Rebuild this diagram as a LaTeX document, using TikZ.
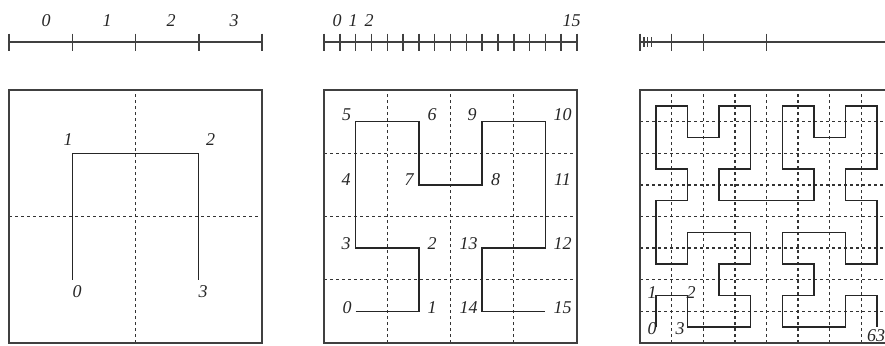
\documentclass[tikz,border=0pt]{standalone}
\usepackage{fontspec}
\setmainfont{Liberation Serif}
\usepackage{tikz}

\begin{document}
\begin{tikzpicture}[x=0.5pt,y=-0.5pt,
  frm/.style={draw=black!75,line width=0.8pt},
  grd/.style={draw=black!80,line width=0.65pt,dash pattern=on 1.5pt off 1.5pt},
  crv/.style={draw=black!85,line width=0.7pt},
  ax/.style={draw=black!75,line width=0.75pt},
  num/.style={font=\fontsize{9}{10}\selectfont\itshape,text=black!85,inner sep=0pt}]
  \clip (0,0) rectangle (885,345);
  % number lines
  \draw[ax] (9,42) -- (262,42);
  \foreach \t in {0,...,4} \draw[ax] (9+\t*63.25,33.5) -- (9+\t*63.25,50.5);
  \draw[ax] (324,42) -- (577,42);
  \foreach \t in {0,...,16} \draw[ax] (324+\t*15.8125,33.5) -- (324+\t*15.8125,50.5);
  \draw[ax] (640,42) -- (893,42);
  \foreach \t in {0,8,16,32} \draw[ax] (640+\t*3.953,33.5) -- (640+\t*3.953,50.5);
  \foreach \t in {1,2,3} \draw[ax,line width=0.55pt] (640+\t*3.953,37) -- (640+\t*3.953,46.5);
  \node[num] (ta0) at (46,21) {0};
  \node[num] (ta1) at (107,21) {1};
  \node[num] (ta2) at (171,21) {2};
  \node[num] (ta3) at (234,21) {3};
  \node[num] (tb0) at (337,21) {0};
  \node[num] (tb1) at (353,21) {1};
  \node[num] (tb2) at (369,21) {2};
  \node[num] (tb15) at (571.5,21) {15};
  % order 1
  \begin{scope}[shift={(9,343)},x=63.25pt,y=63.25pt]
    \draw[grd] (1,0) -- (1,2) (0,1) -- (2,1);
    \draw[frm] (0,0) rectangle (2,2);
    \draw[crv] (0.5,0.5) -- (0.5,1.5) -- (1.5,1.5) -- (1.5,0.5);
  \end{scope}
  \node[num] (pa0) at (77,292) {0};
  \node[num] (pa1) at (68,140) {1};
  \node[num] (pa2) at (210.5,140) {2};
  \node[num] (pa3) at (203,292) {3};
  % order 2
  \begin{scope}[shift={(324,343)},x=31.625pt,y=31.625pt]
    \foreach \i in {1,2,3} \draw[grd] (\i,0) -- (\i,4) (0,\i) -- (4,\i);
    \draw[frm] (0,0) rectangle (4,4);
    \draw[crv,shift={(0.5,0.5)}] (0,0) -- (1,0) -- (1,1) -- (0,1) -- (0,2) -- (0,3)
      -- (1,3) -- (1,2) -- (2,2) -- (2,3) -- (3,3) -- (3,2) -- (3,1) -- (2,1)
      -- (2,0) -- (3,0);
  \end{scope}
  \node[num] (pb5) at (346.5,115) {5};
  \node[num] (pb6) at (432,115) {6};
  \node[num] (pb9) at (472,115) {9};
  \node[num] (pb10) at (562.5,115) {10};
  \node[num] (pb4) at (346,180) {4};
  \node[num] (pb7) at (409,180) {7};
  \node[num] (pb8) at (495.5,180) {8};
  \node[num] (pb11) at (562.5,180) {11};
  \node[num] (pb3) at (346,243.5) {3};
  \node[num] (pb2) at (432,243.5) {2};
  \node[num] (pb13) at (468.5,243.5) {13};
  \node[num] (pb12) at (562.5,243.5) {12};
  \node[num] (pb0) at (347,308) {0};
  \node[num] (pb1) at (432,308) {1};
  \node[num] (pb14) at (468.5,308) {14};
  \node[num] (pb15) at (562.5,308) {15};
  % order 3
  \begin{scope}[shift={(640,343)},x=15.8125pt,y=15.8125pt]
    \foreach \i in {1,...,7} \draw[grd] (\i,0) -- (\i,8) (0,\i) -- (8,\i);
    \draw[frm] (0,0) rectangle (8,8);
    \draw[crv,shift={(0.5,0.5)}]
      (0,0) -- (0,1) -- (1,1) -- (1,0) -- (2,0) -- (3,0) -- (3,1) -- (2,1)
      -- (2,2) -- (3,2) -- (3,3) -- (2,3) -- (1,3) -- (1,2) -- (0,2) -- (0,3)
      -- (0,4) -- (1,4) -- (1,5) -- (0,5) -- (0,6) -- (0,7) -- (1,7) -- (1,6)
      -- (2,6) -- (2,7) -- (3,7) -- (3,6) -- (3,5) -- (2,5) -- (2,4) -- (3,4)
      -- (4,4) -- (5,4) -- (5,5) -- (4,5) -- (4,6) -- (4,7) -- (5,7) -- (5,6)
      -- (6,6) -- (6,7) -- (7,7) -- (7,6) -- (7,5) -- (6,5) -- (6,4) -- (7,4)
      -- (7,3) -- (7,2) -- (6,2) -- (6,3) -- (5,3) -- (4,3) -- (4,2) -- (5,2)
      -- (5,1) -- (4,1) -- (4,0) -- (5,0) -- (6,0) -- (6,1) -- (7,1) -- (7,0);
  \end{scope}
  \node[num] (pc0) at (652,328.5) {0};
  \node[num] (pc1) at (652,293) {1};
  \node[num] (pc2) at (691,293) {2};
  \node[num] (pc3) at (680,328.5) {3};
  \node[num] (pc63) at (876,336) {63};
\end{tikzpicture}
\end{document}
